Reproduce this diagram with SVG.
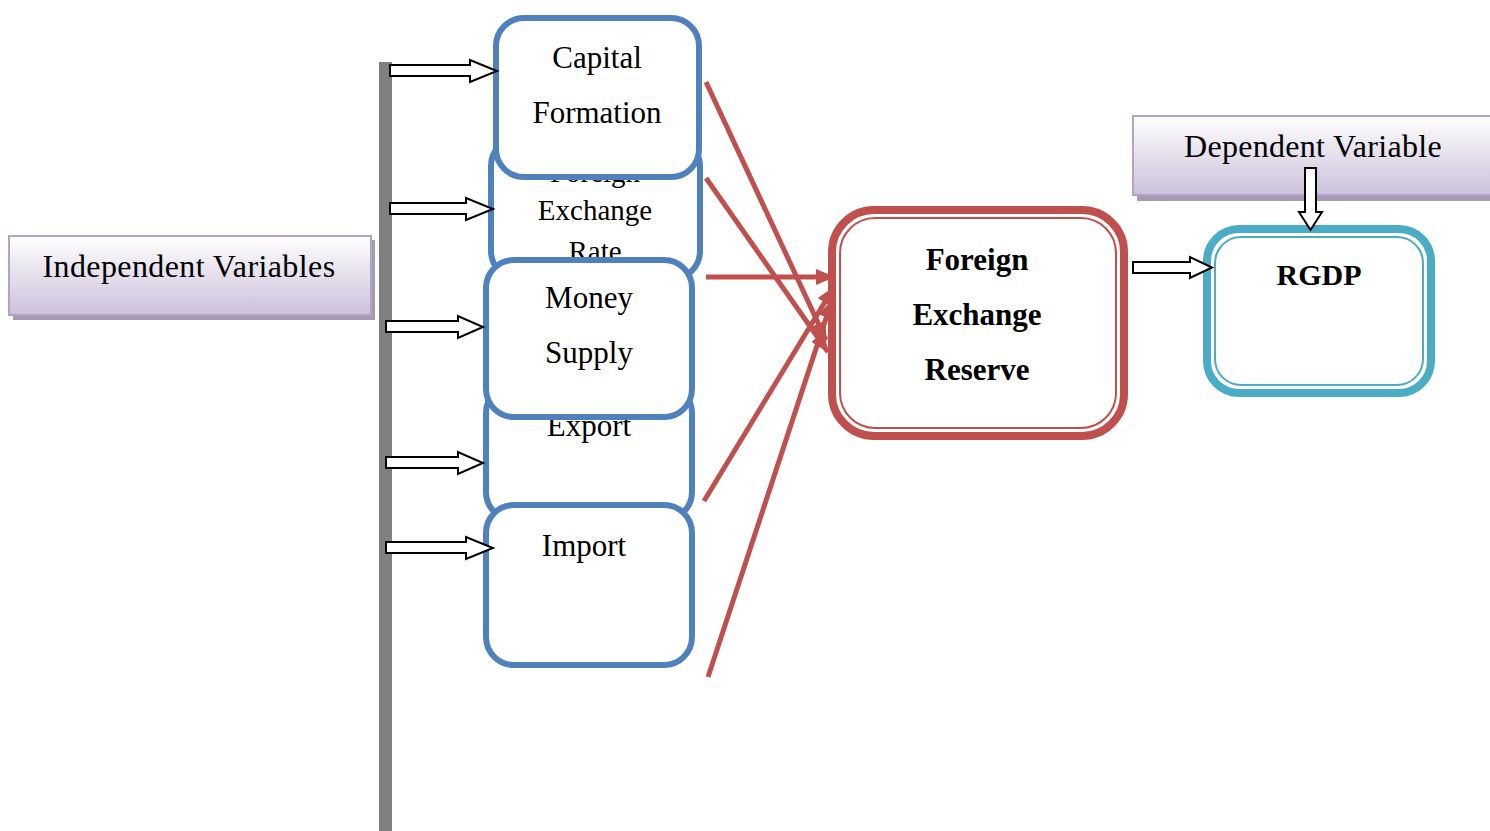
<svg xmlns="http://www.w3.org/2000/svg" width="1490" height="831" viewBox="0 0 1490 831">
<defs>
<linearGradient id="lav" x1="0" y1="0" x2="0" y2="1">
<stop offset="0" stop-color="#FFFFFF"/>
<stop offset="1" stop-color="#CBC0DA"/>
</linearGradient>
<marker id="rh" markerUnits="userSpaceOnUse" markerWidth="22" markerHeight="18" refX="18" refY="8" orient="auto">
<path d="M0,0 L19,8 L0,16 z" fill="#C0504D"/>
</marker>
<style>
.t{font-family:"Liberation Serif","Times New Roman",serif;fill:#000;text-anchor:middle}
.n{font-size:31px}
.b{font-size:31px;font-weight:bold}
.blue{fill:#fff;stroke:#4F81BD;stroke-width:6}
.blk{fill:#fff;stroke:#000;stroke-width:2;stroke-linejoin:miter}
.lavbox{fill:url(#lav);stroke:#B3A2C7;stroke-width:2}
.shadow{fill:#A59BB5}
.red{stroke:#C0504D;stroke-width:5;fill:none;marker-end:url(#rh)}
</style>
</defs>
<rect x="0" y="0" width="1490" height="831" fill="#fff"/>

<g id="bar">
<rect x="379" y="62" width="13" height="769" fill="#808080"/>
</g>

<g id="independent-variables">
<rect class="shadow" x="13" y="240" width="362" height="80"/>
<rect class="lavbox" x="9" y="236" width="362" height="79"/>
<text class="t" style="font-size:32px;letter-spacing:0.4px" x="189" y="277">Independent Variables</text>
</g>

<g id="dependent-variable">
<rect class="shadow" x="1137" y="120" width="360" height="81"/>
<rect class="lavbox" x="1133" y="116" width="362" height="79"/>
<text class="t" style="font-size:32px;letter-spacing:0.3px" x="1313" y="157">Dependent Variable</text>
</g>

<g id="foreign-exchange-rate">
<rect class="blue" x="491" y="138" width="209" height="141" rx="28"/>
<text class="t" style="font-size:29px" x="595" y="182">Foreign</text>
<text class="t" style="font-size:29px" x="595" y="220">Exchange</text>
<text class="t" style="font-size:29px" x="595" y="261">Rate</text>
</g>

<g id="export">
<rect class="blue" x="486" y="385" width="206" height="135" rx="28"/>
<text class="t n" x="589" y="436">Export</text>
</g>

<g id="capital-formation">
<rect class="blue" x="496" y="18" width="203" height="159" rx="28"/>
<text class="t n" x="597" y="68">Capital</text>
<text class="t n" x="597" y="123">Formation</text>
</g>

<g id="money-supply">
<rect class="blue" x="486" y="260" width="206" height="157" rx="28"/>
<text class="t n" x="589" y="308">Money</text>
<text class="t n" x="589" y="363">Supply</text>
</g>

<g id="import">
<rect class="blue" x="486" y="505" width="206" height="160" rx="28"/>
<text class="t n" x="584" y="556">Import</text>
</g>

<g id="foreign-exchange-reserve">
<rect x="832" y="210" width="292" height="226" rx="42" fill="#fff" stroke="#C0504D" stroke-width="8"/>
<rect x="840" y="218" width="276" height="210" rx="35" fill="none" stroke="#C0504D" stroke-width="2"/>
<text class="t b" x="977" y="270">Foreign</text>
<text class="t b" x="977" y="325">Exchange</text>
<text class="t b" x="977" y="380">Reserve</text>
</g>

<g id="rgdp">
<rect x="1207" y="229" width="224" height="164" rx="32" fill="#fff" stroke="#4BACC6" stroke-width="8"/>
<rect x="1215" y="237" width="208" height="148" rx="26" fill="none" stroke="#4BACC6" stroke-width="2"/>
<text class="t" style="font-size:30px;font-weight:bold" x="1319" y="285">RGDP</text>
</g>

<g id="connectors">
<polygon class="blk" points="390,65 470,65 470,60 497,71 470,82 470,76 390,76"/>
<polygon class="blk" points="390,203 466,203 466,198 493,209 466,220 466,214 390,214"/>
<polygon class="blk" points="386,321 458,321 458,316 483,327 458,338 458,332 386,332"/>
<polygon class="blk" points="386,457 458,457 458,452 483,463 458,474 458,468 386,468"/>
<polygon class="blk" points="386,542 466,542 466,537 493,548 466,559 466,553 386,553"/>
<polygon class="blk" points="1133,262 1190,262 1190,257 1212,267.5 1190,278 1190,273 1133,273"/>
<polygon class="blk" points="1305,168 1316,168 1316,212 1322,212 1310.5,230 1299,212 1305,212"/>
<line class="red" x1="706" y1="82" x2="826" y2="340"/>
<line class="red" x1="706" y1="178" x2="828" y2="352"/>
<line class="red" x1="706" y1="277" x2="834" y2="277"/>
<line class="red" x1="704" y1="501" x2="834" y2="287"/>
<line class="red" x1="708" y1="677" x2="832" y2="300"/>
</g>
</svg>
